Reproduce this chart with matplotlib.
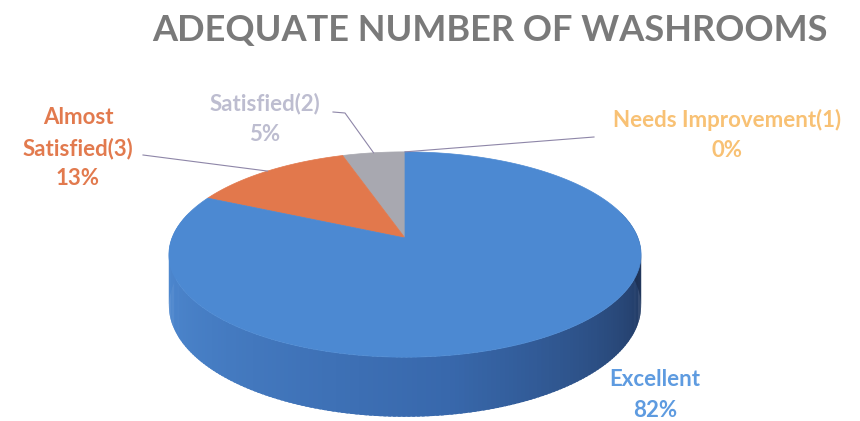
import numpy as np
import matplotlib
matplotlib.use("Agg")
import matplotlib.pyplot as plt
from matplotlib.patches import Polygon

# ---- data ----
categories = ["Needs Improvement(1)", "Satisfied(2)", "Almost Satisfied(3)", "Excellent"]
values = [0, 5, 13, 82]
pct_labels = ["0%", "5%", "13%", "82%"]
display_names = ["Needs Improvement(1)", "Satisfied(2)", "Almost\nSatisfied(3)", "Excellent"]
title = "ADEQUATE NUMBER OF WASHROOMS"

# ---- style ----
face_colors = ["#F5B84A", "#A8A8B0", "#E2784C", "#4C89D2"]
label_colors = ["#F8C174", "#BDBDD0", "#E27A4E", "#5E9BE0"]
label_pos = [(727, 135), (265, 119), (78, 148), (655, 395)]
leader_start = [(594, 137), (333, 112), (143, 155), None]

W, H = 860, 421
fig = plt.figure(figsize=(8.6, 4.21), dpi=100)
fig.patch.set_facecolor("white")
ax = fig.add_axes([0, 0, 1, 1])
ax.set_xlim(0, W)
ax.set_ylim(H, 0)
ax.axis("off")

# perspective pie geometry (pixels)
cx, cy = 405, 238
rx, ry = 233, 100
p = 0.161
depth = 50


def proj(theta_deg, r=1.0, dz=0.0):
    t = np.radians(theta_deg)
    u, v = r * np.cos(t), r * np.sin(t)
    s = 1.0 / (1.0 + p * v)
    return cx + rx * u * s, cy - ry * v * s + depth * dz * s


# wedge angle ranges (counter-clockwise from 12 o'clock)
total = float(sum(values))
bounds = 90 + 360 * np.concatenate([[0], np.cumsum(values)]) / total
wedges = list(zip(bounds[:-1], bounds[1:]))

# ---- side wall (front, visible part) ----
light = np.array([80, 140, 212]) / 255
mid = np.array([56, 104, 172]) / 255
dark = np.array([30, 50, 86]) / 255


def wall_color(th):
    t = (th - 180) / 180.0
    t = min(max(t, 0), 1)
    if t < 0.55:
        return light + (mid - light) * (t / 0.55)
    return mid + (dark - mid) * ((t - 0.55) / 0.45)


for i, (a0, a1) in enumerate(wedges):
    if a1 <= a0:
        continue
    for lo, hi in [(a0, a1), (a0 - 360, a1 - 360)]:
        s0, s1 = max(lo, 165), min(hi, 375)
        if s1 <= s0:
            continue
        ths = np.linspace(s0, s1, int((s1 - s0) / 1.0) + 2)
        for k in range(len(ths) - 1):
            t0, t1 = ths[k], min(ths[k + 1] + 0.6, s1)
            x0, y0 = proj(t0)
            x1, y1 = proj(t1)
            x2, y2 = proj(t1, dz=1)
            x3, y3 = proj(t0, dz=1)
            col = wall_color(0.5 * (t0 + t1)) if i == 3 else face_colors[i]
            ax.add_patch(Polygon([(x0, y0), (x1, y1), (x2, y2), (x3, y3)],
                                 closed=True, facecolor=col, edgecolor="none",
                                 linewidth=0, zorder=2))

# ---- top faces ----
for i, (a0, a1) in enumerate(wedges):
    if a1 <= a0:
        continue
    ths = np.linspace(a0, a1, max(int((a1 - a0) / 1.0), 2) + 1)
    pts = [proj(0, r=0)] + [proj(t) for t in ths]
    ax.add_patch(Polygon(pts, closed=True, facecolor=face_colors[i],
                         edgecolor=face_colors[i], linewidth=0.5, zorder=3))

# ---- labels and leader lines ----
for i, name in enumerate(display_names):
    lx, ly = label_pos[i]
    ax.text(lx, ly, f"{name}\n{pct_labels[i]}", ha="center", va="center",
            fontsize=16, fontweight="bold", family="Lato",
            color=label_colors[i], linespacing=1.55, zorder=5)
    if leader_start[i] is not None:
        a0, a1 = wedges[i]
        ex, ey = proj(0.5 * (a0 + a1))
        sx, sy = leader_start[i]
        if i == 1:
            ax.plot([sx, sx + 12, ex], [sy, sy + 1, ey], color="#8E86A8",
                    linewidth=0.8, zorder=4)
        else:
            ax.plot([sx, ex], [sy, ey], color="#8E86A8", linewidth=0.8, zorder=4)

ax.text(490, 30, title, ha="center", va="center", fontsize=26,
        family="Lato", fontweight="bold", color="#7A7A7A", zorder=5)

fig.savefig("out.png", dpi=100)
